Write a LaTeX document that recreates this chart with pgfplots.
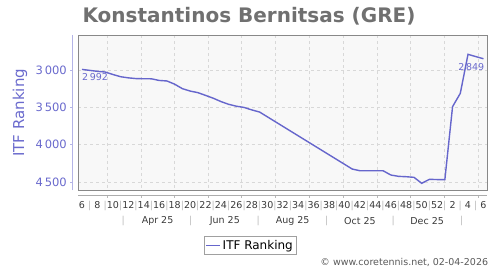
\documentclass[border=0pt]{standalone}
\usepackage{pgfplots}
\pgfplotsset{compat=1.18}
\usepackage{fontspec}
\setmainfont{DejaVu Sans}
\definecolor{linec}{HTML}{6666CC}
\definecolor{axc}{HTML}{6A6ACD}
\definecolor{axl}{HTML}{B4B4E6}
\definecolor{titlec}{HTML}{707070}
\definecolor{gridc}{HTML}{D8D8D8}
\definecolor{framec}{HTML}{888888}
\definecolor{bgc}{HTML}{F8F8F8}
\definecolor{pipec}{HTML}{BBBBBB}
\definecolor{labc}{HTML}{3A3A3A}
\newcommand{\p}{\textcolor{pipec}{|}}
\tikzset{monlab/.style={text=labc, font=\fontsize{9.5bp}{11bp}\selectfont, inner sep=0pt},
 monsep/.style={text=pipec, font=\fontsize{9.5bp}{11bp}\selectfont, inner sep=0pt}}
\begin{document}
\begin{tikzpicture}
\begin{axis}[
 name=ax,
 scale only axis, width=409bp, height=155bp,
 clip=false,
 xmin=-0.48, xmax=52.5,
 ymin=2535, ymax=4612, y dir=reverse,
 axis background/.style={fill=bgc},
 axis line style={draw=framec, line width=0.9bp},
 xtick={3.214,7.643,11.929,16.357,20.643,25.071,29.5,33.786,38.214,42.5,46.929,51.357},
 xticklabels={},
 xmajorgrids, ymajorgrids,
 grid style={draw=gridc, dashed, line width=0.5bp},
 major tick length=0pt,
 extra x ticks={0,1,...,52},
 extra x tick labels={6,\p,8,\p,10,\p,12,\p,14,\p,16,\p,18,\p,20,\p,22,\p,24,\p,26,\p,28,\p,30,\p,32,\p,34,\p,36,\p,38,\p,40,\p,42,\p,44,\p,46,\p,48,\p,50,\p,52,\p,2,\p,4,\p,6},
 extra x tick style={grid=none, xticklabel style={anchor=north, inner sep=0pt, text height=7bp, text depth=2bp, yshift=-11bp, text=labc, font=\fontsize{9.5bp}{11bp}\selectfont}},
 ytick={3000,3500,4000,4500},
 yticklabels={3\,000,3\,500,4\,000,4\,500},
 yticklabel style={font=\fontsize{11.5bp}{13bp}\selectfont, text=axc, xshift=-8bp},
 legend style={at={(rel axis cs:0.42,-0.355)}, anchor=center, draw=framec!80, line width=0.6bp, font=\fontsize{12bp}{14bp}\selectfont, inner sep=1.5bp},
 legend image code/.code={\draw[linec, line width=1.4bp] (0bp,0bp) -- (14bp,0bp);},
]
\addplot[color=linec, line width=1.4bp] coordinates {
(0,2992) (1,3005) (2,3018) (3,3027) (4,3060) (5,3090) (6,3105) (7,3115)
(8,3117) (9,3118) (10,3140) (11,3147) (12,3190) (13,3250) (14,3282) (15,3303)
(16,3340) (17,3378) (18,3423) (19,3460) (20,3485) (21,3502) (22,3535) (23,3563)
(35,4327) (36,4350) (37,4350) (38,4350) (39,4350) (40,4407) (41,4425) (42,4430)
(43,4438) (44,4518) (45,4465) (46,4468) (47,4470) (48,3491) (49,3313) (50,2790)
(51,2820) (52,2849)
};
\addlegendentry{ITF Ranking}
\addplot[draw=none, forget plot, nodes near coords, point meta=explicit symbolic,
 nodes near coords style={anchor=north west, inner sep=0pt, yshift=-3.5bp, text=axc, font=\fontsize{9.5bp}{11bp}\selectfont}]
 coordinates {(0,2992) [2\,992]};
\addplot[draw=none, forget plot, nodes near coords, point meta=explicit symbolic,
 nodes near coords style={anchor=north east, inner sep=0pt, xshift=1bp, yshift=-5bp, text=axc, font=\fontsize{9.5bp}{11bp}\selectfont}]
 coordinates {(52,2849) [2\,849]};
% month row
\node[monlab] at ([yshift=-30.7bp]axis cs:9.786,4612) {Apr 25};
\node[monlab] at ([yshift=-30.7bp]axis cs:18.5,4612) {Jun 25};
\node[monlab] at ([yshift=-30.7bp]axis cs:27.29,4612) {Aug 25};
\node[monlab] at ([yshift=-30.7bp]axis cs:36.0,4612) {Oct 25};
\node[monlab] at ([yshift=-30.7bp]axis cs:44.71,4612) {Dec 25};
\pgfplotsinvokeforeach{5.35,14.08,22.84,31.7,40.3,49.2}{
 \node[monsep] at ([yshift=-30.7bp]axis cs:#1,4612) {|};
}
% y axis tick marks
\pgfplotsinvokeforeach{3000,3500,4000,4500}{
 \draw[axl, line width=0.7bp] ([xshift=-5.6bp]axis cs:-0.48,#1) -- ++(-3bp,0bp);
}
% x axis tick marks
\pgfplotsinvokeforeach{3.214,7.643,11.929,16.357,20.643,25.071,29.5,33.786,38.214,42.5,46.929,51.357}{
 \draw[framec!60, line width=0.6bp] ([yshift=-4.7bp]axis cs:#1,4612) -- ++(0bp,-3bp);
}
\end{axis}
\draw[axl, line width=0.8bp] ([xshift=-5.6bp]ax.south west) -- ([xshift=-5.6bp]ax.north west);
\draw[framec!70, line width=0.8bp] ([yshift=-4.7bp]ax.south west) -- ([yshift=-4.7bp,xshift=-0.6bp]ax.south east);
\node[rotate=90, text=axc, font=\fontsize{15bp}{17bp}\selectfont] at ([xshift=-58.3bp]ax.west) {ITF Ranking};
\node[text=titlec, font=\bfseries\fontsize{20bp}{24bp}\selectfont] at ([xshift=170.7bp,yshift=19.3bp]ax.north west) {Konstantinos Bernitsas (GRE)};
\node[anchor=east, text=black!65, font=\fontsize{9.5bp}{11bp}\selectfont, inner sep=0pt] at ([xshift=1bp,yshift=-71.7bp]ax.south east) {© www.coretennis.net, 02-04-2026};
\pgfresetboundingbox
\path ([xshift=-78.3bp,yshift=-79.7bp]ax.south west) rectangle ([xshift=12.7bp,yshift=35.3bp]ax.north east);
\end{tikzpicture}
\end{document}
